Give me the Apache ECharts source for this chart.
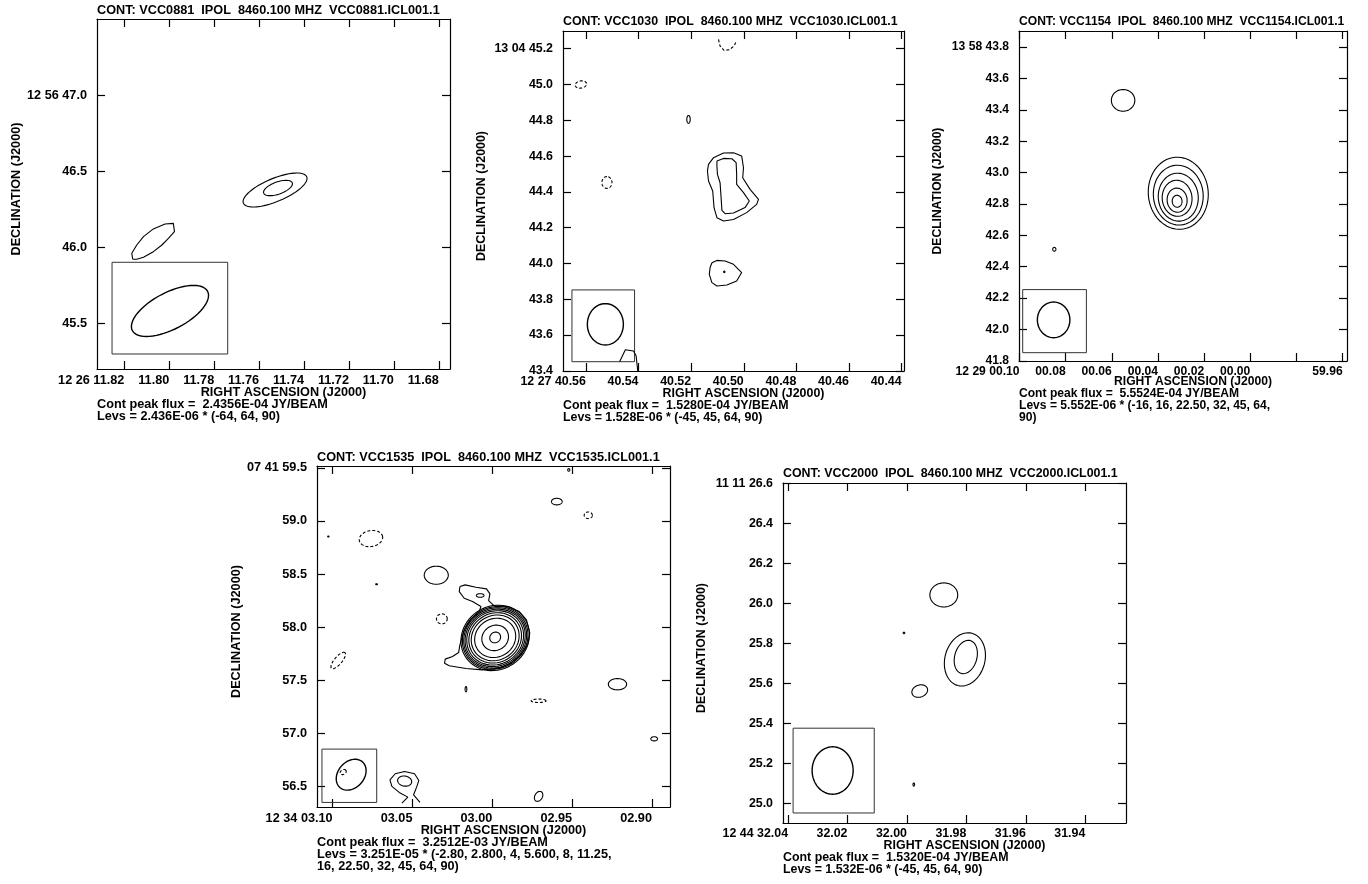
<!DOCTYPE html>
<html>
<head>
<meta charset="utf-8">
<title>VCC contour maps</title>
<script src="https://cdn.jsdelivr.net/npm/echarts@6/dist/echarts.min.js"></script>
<style>
  html, body { margin: 0; padding: 0; background: #fff; }
  #chart { width: 1368px; height: 884px; }
</style>
</head>
<body>
<div id="chart"></div>
<script>
  // ---------- data (RA in seconds of time, Dec in arcsec) ----------
  // ellipse contours: [ra, dec, semi-major arcsec, semi-minor arcsec, angle deg on sky from west toward north]
  // beam box: [ra1, dec1, ra2, dec2]

  // VCC0881
  var p1RaTicks = [11.82, 11.80, 11.78, 11.76, 11.74, 11.72, 11.70, 11.68];
  var p1DecTicks = [47.0, 46.5, 46.0, 45.5];
  var p1Beam = [[11.7997, 45.580, 0.277, 0.121, 28]];
  var p1BeamBox = [[11.8255, 45.901, 11.7740, 45.296]];
  var p1Rings = [
    [11.7529, 46.378, 0.224, 0.076, 23],
    [11.7516, 46.391, 0.099, 0.040, 20]
  ];
  var p1NegRings = [];
  var p1Loops = [
    [[11.8163, 45.921], [11.8167, 45.960], [11.8145, 46.015], [11.8115, 46.070], [11.8071, 46.121],
     [11.8019, 46.154], [11.7982, 46.158], [11.7977, 46.103], [11.8004, 46.059], [11.8033, 46.015],
     [11.8071, 45.971], [11.8115, 45.934], [11.8145, 45.921]]
  ];
  var p1Open = [];
  var p1NegOpen = [];

  // VCC1030
  var p2RaTicks = [40.56, 40.54, 40.52, 40.50, 40.48, 40.46, 40.44];
  var p2DecTicks = [45.2, 45.0, 44.8, 44.6, 44.4, 44.2, 44.0, 43.8, 43.6, 43.4];
  var p2Beam = [[40.5526, 43.660, 0.1156, 0.100, 90]];
  var p2BeamBox = [[40.5653, 43.852, 40.5415, 43.451]];
  var p2Rings = [
    [40.5210, 44.805, 0.022, 0.0095, 90],
    [40.5074, 43.953, 0.004, 0.004, 0]
  ];
  var p2NegRings = [
    [40.5619, 45.000, 0.032, 0.020, 10],
    [40.5520, 44.4525, 0.033, 0.028, 90]
  ];
  var p2Loops = [
    [[40.5134, 44.554], [40.5115, 44.591], [40.5077, 44.617], [40.5039, 44.619], [40.5008, 44.601],
     [40.5001, 44.535], [40.5004, 44.479], [40.4976, 44.414], [40.4944, 44.358], [40.4951, 44.330],
     [40.4989, 44.284], [40.5039, 44.246], [40.5077, 44.237], [40.5102, 44.256], [40.5113, 44.312],
     [40.5118, 44.405], [40.5134, 44.461], [40.5138, 44.517]],
    [[40.5102, 44.573], [40.5077, 44.587], [40.5045, 44.585], [40.5029, 44.563], [40.5027, 44.498],
     [40.5027, 44.442], [40.5001, 44.396], [40.4979, 44.349], [40.4995, 44.312], [40.5039, 44.282],
     [40.5071, 44.278], [40.5083, 44.297], [40.5087, 44.386], [40.5090, 44.451], [40.5100, 44.498],
     [40.5102, 44.545]],
    [[40.5121, 44.004], [40.5102, 44.017], [40.5071, 44.014], [40.5039, 43.995], [40.5008, 43.949],
     [40.5027, 43.902], [40.5064, 43.880], [40.5102, 43.874], [40.5121, 43.893], [40.5131, 43.939],
     [40.5128, 43.977]]
  ];
  var p2Open = [
    [[40.5472, 43.451], [40.5450, 43.518], [40.5419, 43.511], [40.5409, 43.483], [40.5403, 43.400]]
  ];
  var p2NegOpen = [
    [[40.5096, 45.252], [40.5090, 45.215], [40.5075, 45.191], [40.5055, 45.194], [40.5037, 45.215], [40.5029, 45.239]]
  ];

  // VCC1154 (RA below 0 wraps to 59.xx of the previous minute)
  var p3RaTicks = [0.10, 0.08, 0.06, 0.04, 0.02, 0.00, -0.02, -0.04];
  var p3RaLabels = [0.10, 0.08, 0.06, 0.04, 0.02, 0.00, -0.04];
  var p3DecTicks = [43.8, 43.6, 43.4, 43.2, 43.0, 42.8, 42.6, 42.4, 42.2, 42.0, 41.8];
  var p3Beam = [[0.0852, 42.061, 0.1136, 0.1025, 90]];
  var p3BeamBox = [[0.0986, 42.254, 0.0710, 41.852]];
  var p3Rings = [
    [0.0551, 43.460, 0.074, 0.069, 0],
    [0.0849, 42.511, 0.012, 0.010, 90],
    [0.0312, 42.868, 0.230, 0.189, 95],
    [0.0312, 42.856, 0.191, 0.157, 95],
    [0.0312, 42.843, 0.153, 0.126, 95],
    [0.0317, 42.836, 0.115, 0.094, 95],
    [0.0317, 42.824, 0.077, 0.063, 95],
    [0.0317, 42.817, 0.038, 0.031, 95]
  ];
  var p3NegRings = [];
  var p3Loops = [];
  var p3Open = [];
  var p3NegOpen = [];

  // VCC1535
  var p4RaTicks = [3.10, 3.05, 3.00, 2.95, 2.90];
  var p4DecTicks = [59.5, 59.0, 58.5, 58.0, 57.5, 57.0, 56.5];
  var p4Beam = [[3.0884, 56.611, 0.160, 0.122, 50]];
  var p4BeamBox = [[3.1067, 56.852, 3.0724, 56.350]];
  var p4Rings = [
    [2.9982, 57.899, 0.329, 0.297, 35],
    [2.9982, 57.899, 0.315, 0.285, 35],
    [2.9982, 57.899, 0.302, 0.274, 35],
    [2.9982, 57.899, 0.289, 0.261, 35],
    [2.9982, 57.899, 0.273, 0.247, 35],
    [2.9982, 57.899, 0.253, 0.229, 35],
    [2.9982, 57.899, 0.230, 0.208, 35],
    [2.9982, 57.899, 0.197, 0.179, 35],
    [2.9982, 57.899, 0.128, 0.116, 35],
    [2.9982, 57.903, 0.053, 0.048, 45],
    [3.0076, 58.298, 0.036, 0.017, 0],
    [3.0351, 58.489, 0.112, 0.085, 0],
    [2.9596, 59.182, 0.050, 0.031, 0],
    [2.9216, 57.463, 0.085, 0.053, 0],
    [2.8986, 56.949, 0.031, 0.020, 0],
    [2.9710, 56.407, 0.050, 0.035, 60],
    [3.0165, 57.416, 0.025, 0.008, 90],
    [3.1027, 58.853, 0.006, 0.005, 0],
    [3.0725, 58.404, 0.008, 0.005, 0],
    [3.0549, 56.551, 0.066, 0.047, -10],
    [2.9521, 59.480, 0.010, 0.012, 0]
  ];
  var p4NegRings = [
    [3.0760, 58.834, 0.110, 0.075, 10],
    [2.9399, 59.053, 0.038, 0.031, 0],
    [3.0316, 58.078, 0.050, 0.047, 0],
    [3.0965, 57.686, 0.097, 0.035, 50],
    [2.9710, 57.307, 0.069, 0.016, 0],
    [3.0934, 56.636, 0.030, 0.022, 30]
  ];
  var p4Loops = [
    [[3.0203, 58.382], [3.0170, 58.398], [3.0103, 58.376], [3.0036, 58.360], [3.0015, 58.313],
     [3.0023, 58.250], [2.9988, 58.200], [2.9905, 58.194], [2.9831, 58.147], [2.9786, 58.069],
     [2.9765, 57.943], [2.9779, 57.833], [2.9821, 57.739], [2.9884, 57.661], [2.9957, 57.614],
     [3.0061, 57.598], [3.0165, 57.611], [3.0270, 57.636], [3.0299, 57.661], [3.0295, 57.699],
     [3.0249, 57.724], [3.0211, 57.761], [3.0203, 57.833], [3.0176, 57.975], [3.0134, 58.075],
     [3.0082, 58.147], [3.0071, 58.194], [3.0124, 58.241], [3.0176, 58.272], [3.0207, 58.335]]
  ];
  var p4Open = [
    [[3.0566, 56.344], [3.0529, 56.400], [3.0583, 56.444], [3.0629, 56.501], [3.0641, 56.563],
     [3.0608, 56.620], [3.0549, 56.642], [3.0487, 56.620], [3.0460, 56.557], [3.0474, 56.494],
     [3.0493, 56.422], [3.0453, 56.350]]
  ];
  var p4NegOpen = [];

  // VCC2000
  var p5RaTicks = [32.04, 32.02, 32.00, 31.98, 31.96, 31.94];
  var p5DecTicks = [26.6, 26.4, 26.2, 26.0, 25.8, 25.6, 25.4, 25.2, 25.0];
  var p5Beam = [[32.0250, 25.165, 0.1185, 0.1016, 90]];
  var p5BeamBox = [[32.0383, 25.3765, 32.0110, 24.953]];
  var p5Rings = [
    [31.9876, 26.042, 0.069, 0.060, 0],
    [31.9805, 25.720, 0.135, 0.099, 75],
    [31.9802, 25.732, 0.085, 0.055, 75],
    [31.9957, 25.562, 0.040, 0.030, 20],
    [32.0010, 25.852, 0.004, 0.004, 0],
    [31.9977, 25.095, 0.008, 0.004, 90]
  ];
  var p5NegRings = [];
  var p5Loops = [];
  var p5Open = [];
  var p5NegOpen = [];

  // ---------- layout ----------
  var panels = [
    {
      title: 'CONT: VCC0881  IPOL  8460.100 MHZ  VCC0881.ICL001.1',
      foot: ['Cont peak flux =  2.4356E-04 JY/BEAM', 'Levs = 2.436E-06 * (-64, 64, 90)'],
      box: {left: 97, top: 19, width: 353, height: 350}, footDy: 0, fontSize: 12.7,
      ra: [11.6750, 11.8322], dec: [45.197, 47.506], kRa: 14.619, raPre: '12 26 ', decPre: '12 56 ',
      raTicks: p1RaTicks, raLabels: p1RaTicks, decTicks: p1DecTicks,
      beam: p1Beam, beamBox: p1BeamBox, rings: p1Rings, negRings: p1NegRings,
      loops: p1Loops, open: p1Open, negOpen: p1NegOpen
    },
    {
      title: 'CONT: VCC1030  IPOL  8460.100 MHZ  VCC1030.ICL001.1',
      foot: ['Cont peak flux =  1.5280E-04 JY/BEAM', 'Levs = 1.528E-06 * (-45, 45, 64, 90)'],
      box: {left: 563, top: 31, width: 341, height: 340}, footDy: 0, fontSize: 12.4,
      ra: [40.4391, 40.5687], dec: [43.399, 45.299], kRa: 14.611, raPre: '12 27 ', decPre: '13 04 ',
      raTicks: p2RaTicks, raLabels: p2RaTicks, decTicks: p2DecTicks,
      beam: p2Beam, beamBox: p2BeamBox, rings: p2Rings, negRings: p2NegRings,
      loops: p2Loops, open: p2Open, negOpen: p2NegOpen
    },
    {
      title: 'CONT: VCC1154  IPOL  8460.100 MHZ  VCC1154.ICL001.1',
      foot: ['Cont peak flux =  5.5524E-04 JY/BEAM', 'Levs = 5.552E-06 * (-16, 16, 22.50, 32, 45, 64,', '90)'],
      box: {left: 1019, top: 31, width: 328, height: 330}, footDy: -2, fontSize: 12.1,
      ra: [-0.0419, 0.1002], dec: [41.799, 43.902], kRa: 14.556, raPre: '12 29 ', decPre: '13 58 ',
      raTicks: p3RaTicks, raLabels: p3RaLabels, decTicks: p3DecTicks,
      beam: p3Beam, beamBox: p3BeamBox, rings: p3Rings, negRings: p3NegRings,
      loops: p3Loops, open: p3Open, negOpen: p3NegOpen
    },
    {
      title: 'CONT: VCC1535  IPOL  8460.100 MHZ  VCC1535.ICL001.1',
      foot: ['Cont peak flux =  3.2512E-03 JY/BEAM', 'Levs = 3.251E-05 * (-2.80, 2.800, 4, 5.600, 8, 11.25,', '16, 22.50, 32, 45, 64, 90)'],
      box: {left: 317, top: 466, width: 353, height: 341}, footDy: 0, fontSize: 12.7,
      ra: [2.8887, 3.1098], dec: [56.307, 59.517], kRa: 14.865, raPre: '12 34 ', decPre: '07 41 ',
      raTicks: p4RaTicks, raLabels: p4RaTicks, decTicks: p4DecTicks,
      beam: p4Beam, beamBox: p4BeamBox, rings: p4Rings, negRings: p4NegRings,
      loops: p4Loops, open: p4Open, negOpen: p4NegOpen
    },
    {
      title: 'CONT: VCC2000  IPOL  8460.100 MHZ  VCC2000.ICL001.1',
      foot: ['Cont peak flux =  1.5320E-04 JY/BEAM', 'Levs = 1.532E-06 * (-45, 45, 64, 90)'],
      box: {left: 783, top: 483, width: 343, height: 340}, footDy: 0, fontSize: 12.4,
      ra: [31.9263, 32.0417], dec: [24.903, 26.601], kRa: 14.715, raPre: '12 44 ', decPre: '11 11 ',
      raTicks: p5RaTicks, raLabels: p5RaTicks, decTicks: p5DecTicks,
      beam: p5Beam, beamBox: p5BeamBox, rings: p5Rings, negRings: p5NegRings,
      loops: p5Loops, open: p5Open, negOpen: p5NegOpen
    }
  ];

  var FAMILY = '"Liberation Sans", Arial, Helvetica, sans-serif';
  var FRAME = {color: '#000', width: 1.2};
  var CONTOUR_W = 1.1;

  function closeRing(pts) {
    return pts.concat([pts[0]]);
  }

  function raFormatter(p) {
    return function (v) {
      var s = v < 0 ? v + 60 : v;
      var t = s.toFixed(2);
      if (s < 10) t = '0' + t;
      return Math.abs(v - p.raTicks[0]) < 1e-6 ? p.raPre + t : t;
    };
  }

  function decFormatter(p) {
    return function (v) {
      var t = v.toFixed(1);
      return Math.abs(v - p.decTicks[0]) < 1e-6 ? p.decPre + t : t;
    };
  }

  // ellipse drawn on sky: offsets in arcsec, converted to RA seconds with kRa
  function ellipseRenderer(kRa, width, dash) {
    return function (params, api) {
      var ra = api.value(0), dec = api.value(1);
      var a = api.value(2), b = api.value(3), ang = api.value(4) * Math.PI / 180;
      var pts = [];
      for (var i = 0; i < 64; i++) {
        var t = i / 64 * Math.PI * 2;
        var u = a * Math.cos(t), w = b * Math.sin(t);
        var west = u * Math.cos(ang) - w * Math.sin(ang);
        var north = u * Math.sin(ang) + w * Math.cos(ang);
        pts.push(api.coord([ra - west / kRa, dec + north]));
      }
      return {
        type: 'polygon',
        shape: {points: pts},
        style: {fill: 'none', stroke: '#000', lineWidth: width, lineDash: dash}
      };
    };
  }

  function boxRenderer(params, api) {
    var p1 = api.coord([api.value(0), api.value(1)]);
    var p2 = api.coord([api.value(2), api.value(3)]);
    return {
      type: 'rect',
      shape: {
        x: Math.min(p1[0], p2[0]), y: Math.min(p1[1], p2[1]),
        width: Math.abs(p2[0] - p1[0]), height: Math.abs(p2[1] - p1[1])
      },
      style: {fill: 'none', stroke: '#333', lineWidth: 1}
    };
  }

  var grids = [], xAxes = [], yAxes = [], series = [], graphic = [];

  panels.forEach(function (p, i) {
    var b = p.box;
    var font = 'bold ' + p.fontSize + 'px ' + FAMILY;
    var label = {color: '#000', fontSize: p.fontSize, fontWeight: 'bold', fontFamily: FAMILY};
    grids.push({left: b.left, top: b.top, width: b.width, height: b.height});

    var tick = {inside: true, length: 8, customValues: p.raTicks, lineStyle: FRAME};
    xAxes.push({
      gridIndex: i, type: 'value', position: 'bottom', min: p.ra[0], max: p.ra[1], inverse: true,
      axisLine: {onZero: false, lineStyle: FRAME}, axisTick: tick, splitLine: {show: false},
      axisLabel: Object.assign({customValues: p.raLabels, formatter: raFormatter(p), align: 'right', margin: 5}, label)
    });
    xAxes.push({
      gridIndex: i, type: 'value', position: 'top', min: p.ra[0], max: p.ra[1], inverse: true,
      axisLine: {onZero: false, lineStyle: FRAME}, axisTick: tick, splitLine: {show: false},
      axisLabel: {show: false}
    });
    var ytick = {inside: true, length: 8, customValues: p.decTicks, lineStyle: FRAME};
    yAxes.push({
      gridIndex: i, type: 'value', position: 'left', min: p.dec[0], max: p.dec[1],
      axisLine: {onZero: false, lineStyle: FRAME}, axisTick: ytick, splitLine: {show: false},
      axisLabel: Object.assign({customValues: p.decTicks, formatter: decFormatter(p), margin: 10}, label)
    });
    yAxes.push({
      gridIndex: i, type: 'value', position: 'right', min: p.dec[0], max: p.dec[1],
      axisLine: {onZero: false, lineStyle: FRAME}, axisTick: ytick, splitLine: {show: false},
      axisLabel: {show: false}
    });

    var ax = {xAxisIndex: 2 * i, yAxisIndex: 2 * i};
    function custom(data, render) {
      series.push(Object.assign({
        type: 'custom', coordinateSystem: 'cartesian2d', clip: true, silent: true,
        encode: {x: 0, y: 1}, renderItem: render, data: data
      }, ax));
    }
    custom(p.beamBox, boxRenderer);
    custom(p.beam, ellipseRenderer(p.kRa, 1.4, null));
    custom(p.rings, ellipseRenderer(p.kRa, CONTOUR_W, null));
    custom(p.negRings, ellipseRenderer(p.kRa, CONTOUR_W, [3, 2]));

    function line(pts, dashed) {
      series.push(Object.assign({
        type: 'line', data: pts, showSymbol: false, silent: true, clip: true,
        lineStyle: {color: '#000', width: CONTOUR_W, type: dashed ? [3, 2] : 'solid'}
      }, ax));
    }
    p.loops.forEach(function (pts) { line(closeRing(pts), false); });
    p.open.forEach(function (pts) { line(pts, false); });
    p.negOpen.forEach(function (pts) { line(pts, true); });

    // texts
    function text(str, x, y, align) {
      graphic.push({
        type: 'text', silent: true,
        style: {text: str, x: x, y: y, font: font, fill: '#000',
          textAlign: align, textVerticalAlign: 'middle', align: align, verticalAlign: 'middle'}
      });
    }
    var bottom = b.top + b.height;
    text(p.title, b.left, b.top - 9, 'left');
    text('RIGHT ASCENSION (J2000)', b.left + b.width / 2 + 10, bottom + 23 + p.footDy, 'center');
    p.foot.forEach(function (s, k) {
      text(s, b.left, bottom + 35 + 12 * k + p.footDy, 'left');
    });
    graphic.push({
      type: 'text', silent: true, x: b.left - 81, y: b.top + b.height / 2 - 5, rotation: Math.PI / 2,
      style: {text: 'DECLINATION (J2000)', x: 0, y: 0, font: font, fill: '#000',
        textAlign: 'center', textVerticalAlign: 'middle', align: 'center', verticalAlign: 'middle'}
    });
  });

  var option = {
    backgroundColor: '#fff',
    animation: false,
    grid: grids,
    xAxis: xAxes,
    yAxis: yAxes,
    series: series,
    graphic: graphic
  };

  echarts.init(document.getElementById('chart')).setOption(option);
</script>
</body>
</html>
